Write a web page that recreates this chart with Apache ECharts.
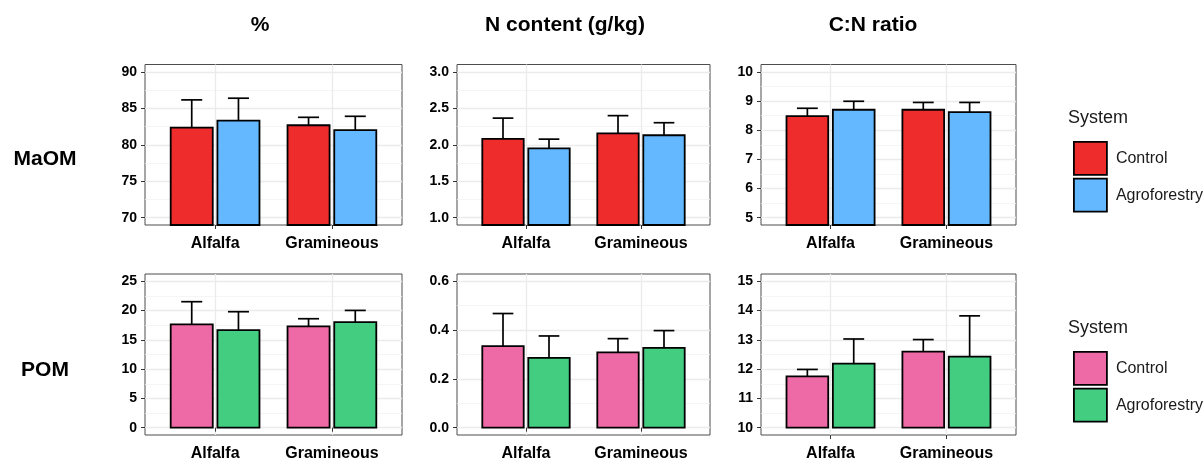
<!DOCTYPE html>
<html><head><meta charset="utf-8">
<script src="https://cdn.jsdelivr.net/npm/echarts@6/dist/echarts.min.js"></script>
<style>html,body{margin:0;padding:0;background:#fff}#c{width:1203px;height:462px}</style>
</head><body><div id="c"></div>
<script>
// ---------- data ----------
const categories = ['Alfalfa', 'Gramineous'];
const systems = ['Control', 'Agroforestry'];
const columnTitles = ['%', 'N content (g/kg)', 'C:N ratio'];
const rowTitles = ['MaOM', 'POM'];
const legendTitle = 'System';

// MaOM, %
const maomPctControl = [82.35, 82.67];
const maomPctControlErr = [3.80, 1.09];
const maomPctAgro = [83.30, 82.00];
const maomPctAgroErr = [3.08, 1.90];
// MaOM, N content
const maomNControl = [2.08, 2.155];
const maomNControlErr = [0.285, 0.244];
const maomNAgro = [1.95, 2.13];
const maomNAgroErr = [0.127, 0.172];
// MaOM, C:N
const maomCNControl = [8.48, 8.70];
const maomCNControlErr = [0.27, 0.25];
const maomCNAgro = [8.70, 8.62];
const maomCNAgroErr = [0.29, 0.33];
// POM, %
const pomPctControl = [17.64, 17.29];
const pomPctControlErr = [3.88, 1.32];
const pomPctAgro = [16.67, 18.04];
const pomPctAgroErr = [3.14, 1.99];
// POM, N content
const pomNControl = [0.334, 0.309];
const pomNControlErr = [0.134, 0.056];
const pomNAgro = [0.286, 0.327];
const pomNAgroErr = [0.090, 0.071];
// POM, C:N
const pomCNControl = [11.75, 12.60];
const pomCNControlErr = [0.24, 0.41];
const pomCNAgro = [12.19, 12.43];
const pomCNAgroErr = [0.84, 1.39];

// tick labels
const yTicksMaomPct = ['70', '75', '80', '85', '90'];
const yTicksMaomN = ['1.0', '1.5', '2.0', '2.5', '3.0'];
const yTicksMaomCN = ['5', '6', '7', '8', '9', '10'];
const yTicksPomPct = ['0', '5', '10', '15', '20', '25'];
const yTicksPomN = ['0.0', '0.2', '0.4', '0.6'];
const yTicksPomCN = ['10', '11', '12', '13', '14', '15'];

// ---------- layout / style ----------
const FONT = '"Liberation Sans", Arial, sans-serif';
const colLeft = [145, 457, 761];
const colWidth = [257, 253, 255];
const rowTop = [64.5, 274];
const rowHeight = [160.5, 161];
const palette = [['#EE2C2C', '#63B8FF'], ['#EE6AA7', '#43CD80']];
const BAR_HALF = 0.18, CAP_HALF = 0.09, DODGE = 0.2;

function expand(ticks) {
  const v = ticks.map(Number);
  const lo = v[0], hi = v[v.length - 1], pad = (hi - lo) * 0.05;
  return [lo - pad, hi + pad];
}

const panels = [
  { row: 0, col: 0, c: maomPctControl, ce: maomPctControlErr, a: maomPctAgro, ae: maomPctAgroErr, ticks: yTicksMaomPct, floor: 0 },
  { row: 0, col: 1, c: maomNControl, ce: maomNControlErr, a: maomNAgro, ae: maomNAgroErr, ticks: yTicksMaomN, floor: 0 },
  { row: 0, col: 2, c: maomCNControl, ce: maomCNControlErr, a: maomCNAgro, ae: maomCNAgroErr, ticks: yTicksMaomCN, floor: 0 },
  { row: 1, col: 0, c: pomPctControl, ce: pomPctControlErr, a: pomPctAgro, ae: pomPctAgroErr, ticks: yTicksPomPct, floor: 0 },
  { row: 1, col: 1, c: pomNControl, ce: pomNControlErr, a: pomNAgro, ae: pomNAgroErr, ticks: yTicksPomN, floor: 0 },
  { row: 1, col: 2, c: pomCNControl, ce: pomCNControlErr, a: pomCNAgro, ae: pomCNAgroErr, ticks: yTicksPomCN, floor: 10 }
];

function seriesName(s, row) { return systems[s] + (row === 1 ? ' (POM)' : ''); }

function makeRender(offset, base) {
  return function (params, api) {
    const k = api.value(0), m = api.value(1), e = api.value(2);
    const xc = k + 1 + offset;
    const tl = api.coord([xc - BAR_HALF, m]);
    const br = api.coord([xc + BAR_HALF, base]);
    const mid = api.coord([xc, m]);
    const top = api.coord([xc, m + e]);
    const cl = api.coord([xc - CAP_HALF, m + e]);
    const cr = api.coord([xc + CAP_HALF, m + e]);
    const color = api.visual('color');
    return {
      type: 'group', children: [
        { type: 'line', shape: { x1: mid[0], y1: mid[1], x2: top[0], y2: top[1] }, style: { stroke: '#000', lineWidth: 1.7 } },
        { type: 'line', shape: { x1: cl[0], y1: cl[1], x2: cr[0], y2: cr[1] }, style: { stroke: '#000', lineWidth: 1.7 } },
        { type: 'rect', shape: { x: tl[0], y: tl[1], width: br[0] - tl[0], height: br[1] - tl[1] }, style: { fill: color, stroke: '#000', lineWidth: 1.8 } }
      ]
    };
  };
}

const grids = [], xAxes = [], yAxes = [], series = [];
panels.forEach((p, i) => {
  const range = expand(p.ticks);
  const tickVals = p.ticks.map(Number);
  grids.push({ left: colLeft[p.col], top: rowTop[p.row], width: colWidth[p.col], height: rowHeight[p.row],
    show: true, borderColor: '#4d4d4d', borderWidth: 1, backgroundColor: '#fff' });
  xAxes.push({ type: 'value', gridIndex: i, min: 0.4, max: 2.6,
    axisLine: { show: false },
    axisTick: { show: true, customValues: [1, 2], length: 4, lineStyle: { color: '#333', width: 1 } },
    axisLabel: { customValues: [1, 2], formatter: v => categories[Math.round(v) - 1], fontFamily: FONT, fontWeight: 'bold', fontSize: 16, color: '#000', margin: 11 },
    splitLine: { show: true, lineStyle: { color: '#EBEBEB', width: 1.3 } } });
  yAxes.push({ type: 'value', gridIndex: i, min: range[0], max: range[1],
    axisLine: { show: false },
    axisTick: { show: true, customValues: tickVals, length: 4, lineStyle: { color: '#333', width: 1 } },
    axisLabel: { customValues: tickVals, formatter: v => { const j = tickVals.findIndex(t => Math.abs(t - v) < 1e-9); return j >= 0 ? p.ticks[j] : ''; },
      fontFamily: FONT, fontWeight: 'bold', fontSize: 14, color: '#000', margin: 8 },
    splitLine: { show: true, lineStyle: { color: '#EBEBEB', width: 1.3 } } });
  const base = Math.max(range[0], p.floor);
  [[p.c, p.ce], [p.a, p.ae]].forEach((pair, s) => {
    series.push({ type: 'custom', name: seriesName(s, p.row), xAxisIndex: i, yAxisIndex: i,
      itemStyle: { color: palette[p.row][s] },
      renderItem: makeRender(s === 0 ? -DODGE : DODGE, base),
      data: categories.map((c, k) => [k, pair[0][k], pair[1][k]]),
      encode: { x: 0, y: 1 }, z: 5 });
  });
});
// minor grid lines
panels.forEach((p, i) => {
  const range = expand(p.ticks);
  const tickVals = p.ticks.map(Number);
  const minorVals = tickVals.slice(1).map((v, j) => (v + tickVals[j]) / 2);
  yAxes.push({ type: 'value', gridIndex: i, min: range[0], max: range[1], position: 'left',
    axisLine: { show: false }, axisTick: { show: false, customValues: minorVals },
    axisLabel: { show: false, customValues: minorVals },
    splitLine: { show: true, lineStyle: { color: '#F2F2F2', width: 0.8 } } });
});

const legendCommon = { orient: 'vertical', left: 1068, itemWidth: 33, itemHeight: 33, itemGap: 2, icon: 'rect',
  selectedMode: false, itemStyle: { borderColor: '#000', borderWidth: 1.8 },
  textStyle: { fontFamily: FONT, fontSize: 16, color: '#1a1a1a', padding: [0, 0, 0, 4] } };

const graphics = [];
const colCenters = [260, 565, 873];
columnTitles.forEach((t, j) => graphics.push({ type: 'text', x: colCenters[j], y: 25,
  style: { text: t, align: 'center', verticalAlign: 'middle', fontFamily: FONT, fontWeight: 'bold', fontSize: 21, fill: '#000' } }));
const rowCenters = [159, 370];
rowTitles.forEach((t, j) => graphics.push({ type: 'text', x: 45, y: rowCenters[j],
  style: { text: t, align: 'center', verticalAlign: 'middle', fontFamily: FONT, fontWeight: 'bold', fontSize: 21, fill: '#000' } }));
[118, 328].forEach(y => graphics.push({ type: 'text', x: 1068, y: y,
  style: { text: legendTitle, align: 'left', verticalAlign: 'middle', fontFamily: FONT, fontSize: 18, fill: '#1a1a1a' } }));

const chart = echarts.init(document.getElementById('c'), null, { renderer: 'canvas' });
chart.setOption({
  animation: false,
  backgroundColor: '#fff',
  grid: grids, xAxis: xAxes, yAxis: yAxes, series: series,
  legend: [
    Object.assign({}, legendCommon, { top: 136, data: systems.map((s, k) => seriesName(k, 0)) }),
    Object.assign({}, legendCommon, { top: 346, data: systems.map((s, k) => seriesName(k, 1)), formatter: n => n.replace(' (POM)', '') })
  ],
  graphic: graphics
});
</script></body></html>
